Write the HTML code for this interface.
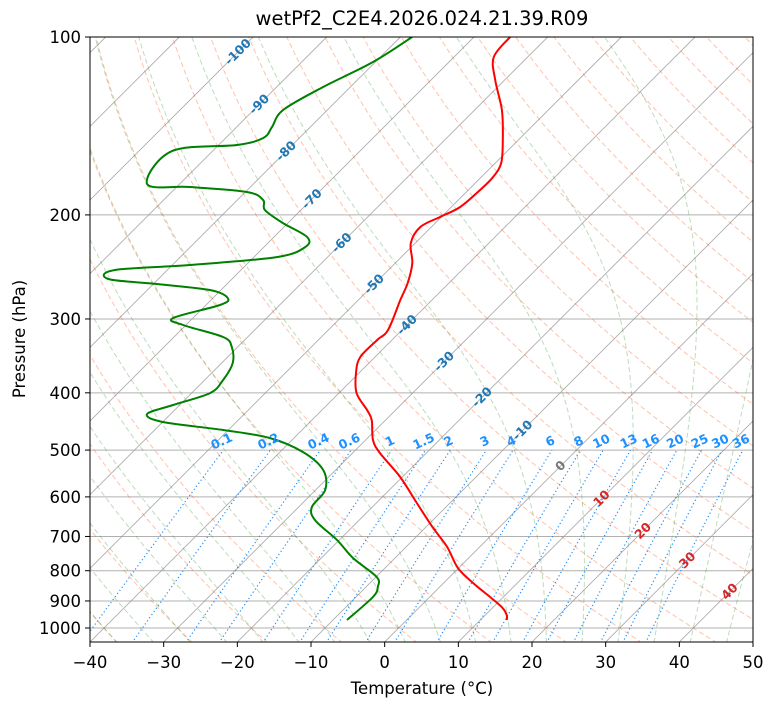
<!DOCTYPE html>
<html><head><meta charset="utf-8"><style>
html,body{margin:0;padding:0;background:#fff;}
svg text{font-family:"DejaVu Sans","Liberation Sans",sans-serif;}
</style></head><body>
<svg id="chart" width="775" height="708" viewBox="0 0 775 708" xmlns="http://www.w3.org/2000/svg">
<defs><clipPath id="clip"><rect x="90" y="37" width="663" height="605"/></clipPath></defs>
<rect x="0" y="0" width="775" height="708" fill="#fff"/>
<text x="422" y="25" text-anchor="middle" font-size="19.5">wetPf2_C2E4.2026.024.21.39.R09</text>
<g id="plot" clip-path="url(#clip)"></g>
<g id="labels"></g>
<rect x="90" y="37" width="663" height="605" fill="none" stroke="#000" stroke-width="1"/>
<g id="axes"></g>
<text x="422" y="694" text-anchor="middle" font-size="16.5">Temperature (°C)</text>
<text transform="translate(25,339) rotate(-90)" text-anchor="middle" font-size="16.5">Pressure (hPa)</text>
</svg>
<script>
const tempP = [100,108.1,118.2,132.9,149.4,163.4,172.5,181.5,193.9,201.7,209.7,223.2,241.2,260.8,278.6,313.1,325.5,347.9,370.3,400.4,427.6,444.7,480.8,505.7,555.2,614.5,674.9,729.5,791.6,839.3,886.3,925.1,950.6,969.4];
const tempT = [-65.1,-64.6,-61.3,-56.3,-52.1,-49.2,-48.4,-48.4,-48.8,-50.2,-51.5,-50.6,-47.7,-45.6,-44.3,-41.9,-42.0,-42.0,-40.4,-37.6,-33.9,-31.9,-29.0,-26.3,-20.3,-14.5,-9.1,-4.4,-0.1,4.0,8.2,11.4,12.9,13.6];
const dewP = [100,110.2,121.5,132.9,142.0,148.2,152.3,156.0,177.4,179.4,182.9,188.7,196.2,206.4,218.0,226.7,235.7,243.1,247.9,256.7,261.8,268.0,276.5,284.1,298.9,307.1,321.9,334.6,356.2,380.5,400.4,419.4,434.4,448.1,462.4,477.0,503.7,540.3,584.2,624.2,656.8,709.9,761.4,819.8,852.3,886.3,969.4];
const dewT = [-78.4,-80.3,-83.7,-86.0,-85.2,-84.9,-87.5,-95.5,-94.4,-88.2,-79.8,-76.5,-74.9,-70.7,-65.5,-64.4,-66.9,-77.6,-87.1,-86.8,-79.5,-71.5,-68.0,-68.1,-72.7,-70.4,-63.3,-60.8,-58.5,-57.5,-57.5,-60.9,-63.2,-60.0,-50.7,-43.3,-36.9,-31.7,-28.7,-28.2,-26.0,-20.3,-15.7,-9.9,-8.4,-7.7,-8.1];
const xTicks = [-40,-30,-20,-10,0,10,20,30,40,50];
const pTicks = [100,200,300,400,500,600,700,800,900,1000];
const mixRatios = [0.1,0.2,0.4,0.6,1,1.5,2,3,4,6,8,10,13,16,20,25,30,36];
const mixLabels = ["0.1","0.2","0.4","0.6","1","1.5","2","3","4","6","8","10","13","16","20","25","30","36"];
const isoLabelT = [-100,-90,-80,-70,-60,-50,-40,-30,-20,-10,0,10,20,30,40];
const isoLabelP = [106,130,156,188,223,262,307,354,407,463,532,604,685,768,868];

const NS="http://www.w3.org/2000/svg";
const L=90,R=753,T0=37,B=642,K=663/90,DEC=591;
function yOf(p){return T0+DEC*Math.log10(p/100);}
function xOf(t,p){return L+(t+40)*K+(B-yOf(p));}
const plot=document.getElementById('plot'),labels=document.getElementById('labels'),axes=document.getElementById('axes');
function mk(tag,attrs,parent){const e=document.createElementNS(NS,tag);for(const k in attrs)e.setAttribute(k,attrs[k]);parent.appendChild(e);return e;}
function pathFrom(ts,ps){let d='';for(let i=0;i<ts.length;i++){d+=(i?'L':'M')+xOf(ts[i],ps[i]).toFixed(1)+','+yOf(ps[i]).toFixed(1);}return d;}
function smoothFrom(ts,ps){const P=ts.map((t,i)=>[xOf(t,ps[i]),yOf(ps[i])]);let d='M'+P[0][0].toFixed(1)+','+P[0][1].toFixed(1);
for(let i=0;i<P.length-1;i++){const p0=P[Math.max(i-1,0)],p1=P[i],p2=P[i+1],p3=P[Math.min(i+2,P.length-1)];
const c1=[p1[0]+(p2[0]-p0[0])/6,p1[1]+(p2[1]-p0[1])/6],c2=[p2[0]-(p3[0]-p1[0])/6,p2[1]-(p3[1]-p1[1])/6];
d+='C'+c1[0].toFixed(1)+','+c1[1].toFixed(1)+' '+c2[0].toFixed(1)+','+c2[1].toFixed(1)+' '+p2[0].toFixed(1)+','+p2[1].toFixed(1);}return d;}
const PB=1060;
pTicks.forEach(p=>{const l=mk('line',{x1:L,x2:R,y1:yOf(p),y2:yOf(p),stroke:'#b0b0b0','stroke-width':1},plot);

});
for(let t=-200;t<=60;t+=10){const l=mk('line',{x1:xOf(t,PB),y1:yOf(PB),x2:xOf(t,100),y2:yOf(100),stroke:'#999','stroke-width':0.9,opacity:0.8},plot);

}
for(let t0=-100;t0<=200;t0+=10){const ts=[],ps=[];const th=t0+273.15;for(let p=PB;p>=100;p-=10){ps.push(p);ts.push(th*Math.pow(p/1000,0.2857)-273.15);}
const e=mk('path',{d:pathFrom(ts,ps),fill:'none',stroke:'#ff4500','stroke-width':1,opacity:0.33,'stroke-dasharray':'5,3'},plot);

}
function es(t){return 6.112*Math.exp(17.67*t/(t+243.5));}
function dTdp(T,p){const e=es(T-273.15);const rs=0.622*e/Math.max(p-e,1e-3);return (287.04*T+2.501e6*rs)/(p*(1005.7+2.501e6*2.501e6*rs*0.622/(287.04*T*T)));}
function moist(t0){const up=[],down=[];let T=t0+273.15;for(let p=1000;p>100;p-=5){up.push([p,T]);const k1=dTdp(T,p);const k2=dTdp(T-5*k1,p-5);T-=2.5*(k1+k2);}up.push([100,T]);
T=t0+273.15;for(let p=1000;p<PB;p+=5){const k1=dTdp(T,p);const k2=dTdp(T+5*k1,p+5);T+=2.5*(k1+k2);down.push([p+5,T]);}
const all=down.reverse().concat(up);return [all.map(a=>a[1]-273.15),all.map(a=>a[0])];}
for(let t0=-60;t0<=50;t0+=5){const [ts,ps]=moist(t0);
const e=mk('path',{d:pathFrom(ts,ps),fill:'none',stroke:'#228b22','stroke-width':1,opacity:0.3,'stroke-dasharray':'5,3'},plot);

}
function tdOf(w,p){const e=p*w/(0.622+w);const g=Math.log(e/6.112);return 243.5*g/(17.67-g);}
mixRatios.forEach((w,i)=>{const ts=[],ps=[];for(let p=PB;p>=500;p-=20){ps.push(p);ts.push(tdOf(w/1000,p));}ps.push(500);ts.push(tdOf(w/1000,500));
const e=mk('path',{d:pathFrom(ts,ps),fill:'none',stroke:'#1e90ff','stroke-width':1.2,'stroke-dasharray':'1.2,2.6'},plot);


const x=xOf(tdOf(w/1000,500),500),y=yOf(500)-5;
const t=mk('text',{x:x,y:y,'text-anchor':'middle','font-size':12.5,'font-weight':'bold',fill:'#1e90ff',transform:`rotate(-25 ${x} ${y})`},labels);
t.textContent=mixLabels[i];

});
const tp=mk('path',{d:smoothFrom(tempT,tempP),fill:'none',stroke:'#ff0000','stroke-width':2,'stroke-linejoin':'round'},plot);


const dp=mk('path',{d:smoothFrom(dewT,dewP),fill:'none',stroke:'#008000','stroke-width':2,'stroke-linejoin':'round'},plot);


isoLabelT.forEach((t,i)=>{const p=isoLabelP[i];const x=xOf(t,p),y=yOf(p)+4;
const col=t<0?'#1f77b4':(t===0?'#777':'#d62728');
const e=mk('text',{x:x,y:y,'text-anchor':'middle','font-size':12.5,'font-weight':'bold',fill:col,transform:`rotate(-45 ${x} ${y-4})`},labels);
e.textContent=String(t);

});
xTicks.forEach(t=>{const x=L+(t+40)*K;mk('line',{x1:x,x2:x,y1:B,y2:B+5,stroke:'#000'},axes);
const e=mk('text',{x:x,y:B+26,'text-anchor':'middle','font-size':16.5},axes);e.textContent=(t<0?'\u2212':'')+Math.abs(t);

});
pTicks.forEach(p=>{const y=yOf(p);mk('line',{x1:L-5,x2:L,y1:y,y2:y,stroke:'#000'},axes);
const e=mk('text',{x:L-9,y:y+6,'text-anchor':'end','font-size':16.5},axes);e.textContent=String(p);

});
</script>
</body></html>
